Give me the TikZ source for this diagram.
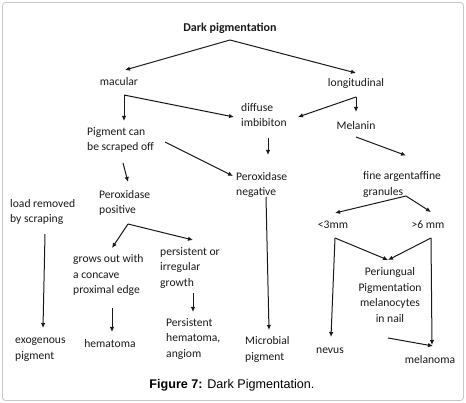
\documentclass[tikz,border=0pt]{standalone}
\usepackage{fontspec}
\setmainfont{Carlito}
\newfontfamily\capfont{Liberation Sans}
\usetikzlibrary{arrows.meta}
\begin{document}
\begin{tikzpicture}[x=1pt,y=-1pt,
  lbl/.style={inner sep=0pt,font=\fontsize{11.6}{15.8}\selectfont,text=black!90},
  lblw/.style={lbl,anchor=west,align=left},
  arr/.style={-{Latex[length=5pt,width=4.5pt]},line width=1pt,black!90}]
\useasboundingbox (0,0) rectangle (466,403);
\draw[black!22,line width=0.8pt,rounded corners=3pt] (2.5,2.5) rectangle (463.5,400.5);
% nodes
\node[lbl,font=\fontsize{12}{15.8}\selectfont\bfseries] (title) at (230,28) {Dark pigmentation};
\node[lbl] (macular) at (119,82) {macular};
\node[lbl] (longitudinal) at (356,83) {longitudinal};
\node[lblw] (diffuse) at (241,115) {diffuse\\imbibiton};
\node[lbl] (melanin) at (356,126) {Melanin};
\node[lblw] (pigment) at (87,140) {Pigment can\\be scraped off};
\node[lblw] (perneg) at (236,185) {Peroxidase\\negative};
\node[lblw] (fine) at (363,184.5) {fine argentaffine\\granules};
\node[lblw] (perpos) at (99,203) {Peroxidase\\positive};
\node[lblw] (load) at (10,212) {load removed\\by scraping};
\node[lblw] (grows) at (73,275) {grows out with\\a concave\\proximal edge};
\node[lblw] (persist) at (160,268) {persistent or\\irregular\\growth};
\node[lblw] (phem) at (166,339) {Persistent\\hematoma,\\angiom};
\node[lblw] (exo) at (15,349.5) {exogenous\\pigment};
\node[lbl] (hem) at (110,344) {hematoma};
\node[lblw] (micro) at (245,349.5) {Microbial\\pigment};
\node[lbl] (lt3) at (333,225) {\textless 3mm};
\node[lbl] (gt6) at (428,225) {\textgreater 6 mm};
\node[lbl,align=center] (peri) at (390,295) {Periungual\\Pigmentation\\melanocytes\\in nail};
\node[lbl] (nevus) at (330,351) {nevus};
\node[lbl] (melanoma) at (430,360) {melanoma};
\node[inner sep=0pt,font=\capfont\fontsize{12.6}{14}\selectfont] (caption) at (232,385) {\textbf{Figure 7:} Dark Pigmentation.};
% junctions
\coordinate (ts) at ([shift={(0,12)}]title.center);
\coordinate (mj) at ([shift={(5,13)}]macular.center);
\coordinate (lj) at ([shift={(0,14)}]longitudinal.center);
\coordinate (fj) at ([shift={(43,11.5)}]fine.west);
\coordinate (lt3j) at ([shift={(2,13)}]lt3.center);
\coordinate (gt6j) at ([shift={(3,13)}]gt6.center);
\coordinate (pj) at ([shift={(29,21)}]perpos.west);
% connectors
\draw[arr] (ts) -- ([shift={(6,-12)}]macular.center);
\draw[arr] (ts) -- ([shift={(0,-10)}]longitudinal.center);
\draw[arr] (mj) -- ([shift={(37,-19)}]pigment.west);
\draw[arr] (mj) -- ([shift={(-7,2)}]diffuse.west);
\draw[arr] ([shift={(78,2)}]pigment.west) -- ([shift={(-3,-9)}]perneg.west);
\draw[arr] ([shift={(36,23)}]pigment.west) -- ([shift={(29,-21)}]perpos.west);
\draw[arr] (lj) -- ([shift={(57,2)}]diffuse.west);
\draw[arr] (lj) -- ([shift={(0,-14)}]melanin.center);
\draw[arr] ([shift={(27,23)}]diffuse.west) -- ([shift={(32,-30)}]perneg.west);
\draw[arr] ([shift={(0,11)}]melanin.center) -- ([shift={(43,-29)}]fine.west);
\draw[arr] (fj) -- ([shift={(2,-12)}]lt3.center);
\draw[arr] (fj) -- ([shift={(3,-13)}]gt6.center);
\draw[arr] (lt3j) -- ([shift={(-2,-35)}]peri.center);
\draw[arr] (lt3j) -- ([shift={(1,-14)}]nevus.center);
\draw[arr] (gt6j) -- ([shift={(-2,-35)}]peri.center);
\draw[arr] (gt6j) -- ([shift={(2,-15)}]melanoma.center);
\draw[arr] ([shift={(-2,43)}]peri.center) -- ([shift={(3,-14)}]melanoma.center);
\draw[arr] ([shift={(30,12)}]perneg.west) -- ([shift={(24,-19.5)}]micro.west);
\draw[arr] (pj) -- ([shift={(39,-27)}]grows.west);
\draw[arr] (pj) -- ([shift={(33,-28)}]persist.west);
\draw[arr] ([shift={(35,22)}]load.west) -- ([shift={(28,-21.5)}]exo.west);
\draw[arr] ([shift={(39,33)}]grows.west) -- ([shift={(2,-12)}]hem.center);
\draw[arr] ([shift={(33,25)}]persist.west) -- ([shift={(27,-27)}]phem.west);
\end{tikzpicture}
\end{document}
